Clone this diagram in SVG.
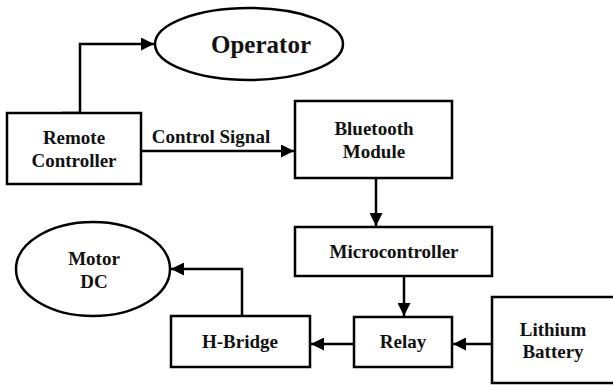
<svg xmlns="http://www.w3.org/2000/svg" width="613" height="385" viewBox="0 0 613 385">
<style>
.box{fill:#fff;stroke:#000;stroke-width:2.5}
.t{font-family:'Liberation Serif','DejaVu Serif',serif;font-weight:700;font-size:19px;text-anchor:middle;fill:#111}
.big{font-size:25px}
.c{fill:none;stroke:#000;stroke-width:2.5}
</style>
<defs>
<marker id="ah" viewBox="0 0 10 10" refX="10" refY="5" markerWidth="6" markerHeight="5.2" markerUnits="strokeWidth" orient="auto">
<path d="M0,0 L10,5 L0,10 z" fill="#000"/>
</marker>
</defs>
<rect width="613" height="385" fill="#fff"/>
<g id="connectors">
<path class="c" d="M62,113 H80 V44 H154" marker-end="url(#ah)"/>
<path class="c" d="M141,151 H294" marker-end="url(#ah)"/>
<path class="c" d="M376,178 V226" marker-end="url(#ah)"/>
<path class="c" d="M404,276 V316" marker-end="url(#ah)"/>
<path class="c" d="M492,344 H453" marker-end="url(#ah)"/>
<path class="c" d="M354,344 H311" marker-end="url(#ah)"/>
<path class="c" d="M242,316 V269 H171" marker-end="url(#ah)"/>
<text class="t" x="211" y="143">Control Signal</text>
</g>
<g id="operator">
<ellipse class="box" cx="249" cy="44" rx="94" ry="36"/>
<text class="t big" x="261" y="53">Operator</text>
</g>
<g id="remote">
<rect class="box" x="7" y="113" width="134" height="71"/>
<text class="t" x="74" y="144">Remote</text>
<text class="t" x="74" y="167">Controller</text>
</g>
<g id="bluetooth">
<rect class="box" x="295" y="101" width="157" height="77"/>
<text class="t" x="374" y="135">Bluetooth</text>
<text class="t" x="374" y="158">Module</text>
</g>
<g id="micro">
<rect class="box" x="295" y="227" width="197" height="49"/>
<text class="t" x="394" y="258">Microcontroller</text>
</g>
<g id="relay">
<rect class="box" x="354" y="317" width="98" height="50"/>
<text class="t" x="403" y="348">Relay</text>
</g>
<g id="battery">
<rect class="box" x="492" y="297" width="125" height="86"/>
<text class="t" x="553" y="336">Lithium</text>
<text class="t" x="553" y="358">Battery</text>
</g>
<g id="hbridge">
<rect class="box" x="171" y="316" width="139" height="51"/>
<text class="t" x="240" y="348">H-Bridge</text>
</g>
<g id="motor">
<ellipse class="box" cx="93" cy="269" rx="77" ry="47"/>
<text class="t" x="94" y="265">Motor</text>
<text class="t" x="94" y="288">DC</text>
</g>
</svg>
